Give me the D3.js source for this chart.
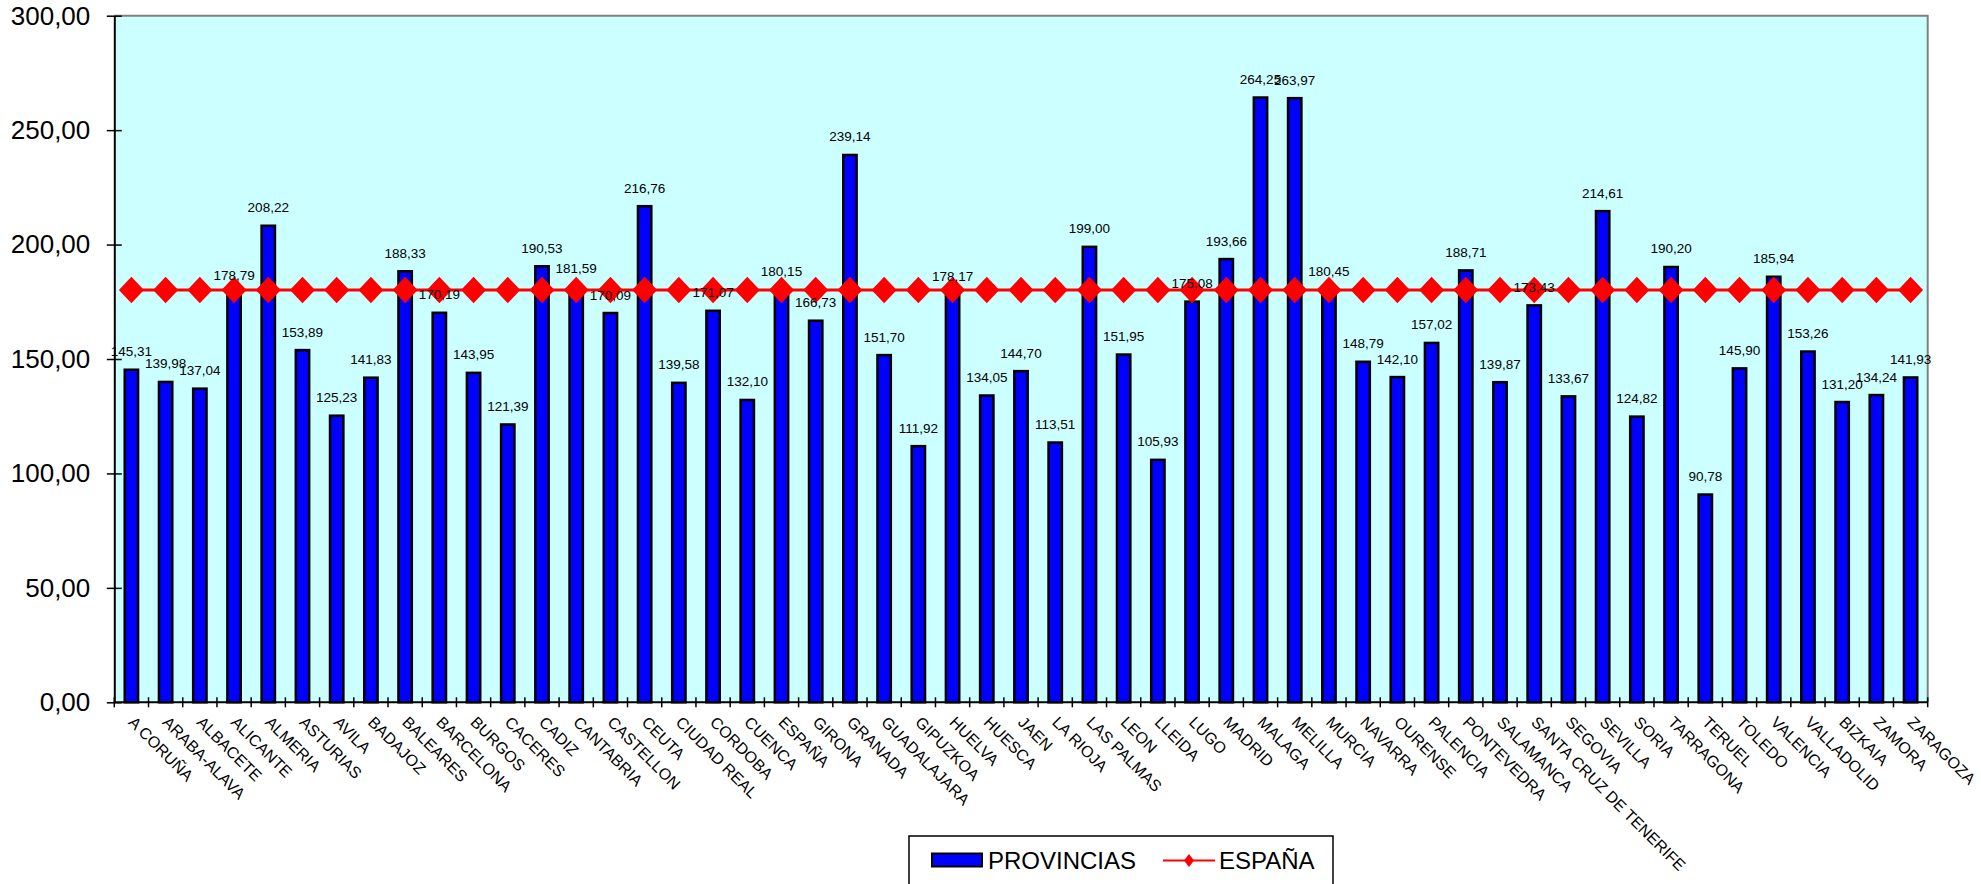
<!DOCTYPE html>
<html>
<head>
<meta charset="utf-8">
<script src="https://cdn.jsdelivr.net/npm/d3@7"></script>
<style>
  html, body { margin: 0; padding: 0; background: #ffffff; }
  svg { display: block; }
  text { font-family: "Liberation Sans", Arial, sans-serif; fill: #000; }
</style>
</head>
<body>
<svg id="chart" width="1981" height="884"></svg>
<script>
const categories = ["A CORUÑA","ARABA-ALAVA","ALBACETE","ALICANTE","ALMERIA","ASTURIAS","AVILA","BADAJOZ","BALEARES","BARCELONA","BURGOS","CACERES","CADIZ","CANTABRIA","CASTELLON","CEUTA","CIUDAD REAL","CORDOBA","CUENCA","ESPAÑA","GIRONA","GRANADA","GUADALAJARA","GIPUZKOA","HUELVA","HUESCA","JAEN","LA RIOJA","LAS PALMAS","LEON","LLEIDA","LUGO","MADRID","MALAGA","MELILLA","MURCIA","NAVARRA","OURENSE","PALENCIA","PONTEVEDRA","SALAMANCA","SANTA CRUZ DE TENERIFE","SEGOVIA","SEVILLA","SORIA","TARRAGONA","TERUEL","TOLEDO","VALENCIA","VALLADOLID","BIZKAIA","ZAMORA","ZARAGOZA"];

const provincias = [145.31,139.98,137.04,178.79,208.22,153.89,125.23,141.83,188.33,170.19,143.95,121.39,190.53,181.59,170.09,216.76,139.58,171.07,132.10,180.15,166.73,239.14,151.70,111.92,178.17,134.05,144.70,113.51,199.00,151.95,105.93,175.08,193.66,264.25,263.97,180.45,148.79,142.10,157.02,188.71,139.87,173.43,133.67,214.61,124.82,190.20,90.78,145.90,185.94,153.26,131.20,134.24,141.93];

const espana = [180.15,180.15,180.15,180.15,180.15,180.15,180.15,180.15,180.15,180.15,180.15,180.15,180.15,180.15,180.15,180.15,180.15,180.15,180.15,180.15,180.15,180.15,180.15,180.15,180.15,180.15,180.15,180.15,180.15,180.15,180.15,180.15,180.15,180.15,180.15,180.15,180.15,180.15,180.15,180.15,180.15,180.15,180.15,180.15,180.15,180.15,180.15,180.15,180.15,180.15,180.15,180.15,180.15];

const yTicks = [0, 50, 100, 150, 200, 250, 300];
const yTickLabels = ["0,00","50,00","100,00","150,00","200,00","250,00","300,00"];
const seriesNames = ["PROVINCIAS", "ESPAÑA"];

const fmt = v => v.toFixed(2).replace(".", ",");

const svg = d3.select("#chart");
const plot = { left: 114.3, right: 1927.7, top: 15.7, bottom: 702.3 };

const x = d3.scaleBand().domain(categories).range([plot.left, plot.right]).padding(0);
const y = d3.scaleLinear().domain([0, 300]).range([plot.bottom, plot.top]);

// plot background
svg.append("rect")
  .attr("x", plot.left).attr("y", plot.top)
  .attr("width", plot.right - plot.left).attr("height", plot.bottom - plot.top)
  .attr("fill", "#CCFFFF");

// gray border top and right
svg.append("path")
  .attr("d", `M${plot.left},${plot.top}H${plot.right}V${plot.bottom}`)
  .attr("fill", "none").attr("stroke", "#808080").attr("stroke-width", 2);

// bars
const barW = x.bandwidth() * 0.39;
svg.append("g").selectAll("rect").data(provincias).join("rect")
  .attr("x", (d, i) => x(categories[i]) + x.bandwidth() / 2 - barW / 2)
  .attr("y", d => y(d))
  .attr("width", barW)
  .attr("height", d => y(0) - y(d))
  .attr("fill", "#0000FF")
  .attr("stroke", "#000").attr("stroke-width", 2.5);

// y axis
const yAxis = d3.axisLeft(y).tickValues(yTicks)
  .tickFormat((d, i) => yTickLabels[i]).tickSize(0).tickPadding(24);
const gy = svg.append("g").attr("transform", `translate(${plot.left},0)`).call(yAxis);
gy.select(".domain").attr("stroke", "#000").attr("stroke-width", 2);
gy.selectAll(".tick text").style("font-size", "26px").attr("font-family", null);
gy.selectAll(".tick").append("line")
  .attr("x1", -7.5).attr("x2", 7.5).attr("stroke", "#000").attr("stroke-width", 1.5);

// x axis
const boundaries = categories.map(c => x(c)).concat([plot.right]);
svg.append("line")
  .attr("x1", plot.left).attr("x2", plot.right)
  .attr("y1", y(0)).attr("y2", y(0))
  .attr("stroke", "#000").attr("stroke-width", 2);
svg.append("g").selectAll("line").data(boundaries).join("line")
  .attr("x1", d => d).attr("x2", d => d)
  .attr("y1", y(0) - 5).attr("y2", y(0) + 5)
  .attr("stroke", "#000").attr("stroke-width", 1.5);

const xAxis = d3.axisBottom(x).tickSize(0).tickPadding(0);
const gx = svg.append("g").attr("transform", `translate(0,${y(0)})`).call(xAxis);
gx.select(".domain").remove();
gx.selectAll(".tick text")
  .attr("font-family", null)
  .style("font-size", "16px")
  .attr("text-anchor", "start")
  .attr("y", 0).attr("dy", 0)
  .attr("transform", "translate(-4,21) rotate(45)");

// line series
const cx = i => x(categories[i]) + x.bandwidth() / 2;
const line = d3.line().x((d, i) => cx(i)).y(d => y(d));
svg.append("path").datum(espana)
  .attr("d", line).attr("fill", "none")
  .attr("stroke", "#FF0000").attr("stroke-width", 3);
const diamond = (px, py, hw, hh) => `M${px},${py - hh}L${px + hw},${py}L${px},${py + hh}L${px - hw},${py}Z`;
svg.append("g").selectAll("path").data(espana).join("path")
  .attr("d", (d, i) => diamond(cx(i), y(d), 12.5, 13.3))
  .attr("fill", "#FF0000");

// data labels
svg.append("g").selectAll("text").data(provincias).join("text")
  .attr("x", (d, i) => cx(i))
  .attr("y", d => y(d) - 13.5)
  .attr("text-anchor", "middle")
  .style("font-size", "13.5px")
  .text(d => fmt(d));

// legend
const lg = svg.append("g");
lg.append("rect").attr("x", 909).attr("y", 836).attr("width", 424).attr("height", 60)
  .attr("fill", "#fff").attr("stroke", "#000").attr("stroke-width", 1.5);
lg.append("rect").attr("x", 932).attr("y", 853.5).attr("width", 50).attr("height", 13)
  .attr("fill", "#0000FF").attr("stroke", "#000").attr("stroke-width", 2);
lg.append("text").attr("x", 988).attr("y", 869).style("font-size", "24px").text(seriesNames[0]);
lg.append("line").attr("x1", 1163).attr("x2", 1215).attr("y1", 860.5).attr("y2", 860.5)
  .attr("stroke", "#FF0000").attr("stroke-width", 2);
lg.append("path").attr("d", diamond(1189, 860.5, 5, 6.5)).attr("fill", "#FF0000");
lg.append("text").attr("x", 1219).attr("y", 869).style("font-size", "24px").text(seriesNames[1]);
</script>
</body>
</html>
